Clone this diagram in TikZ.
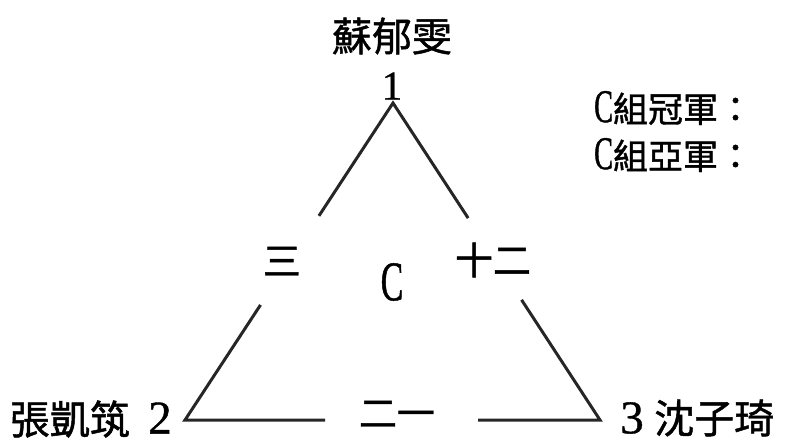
\documentclass[tikz,border=0pt]{standalone}
\usepackage{fontspec}
\newfontfamily\cjk[FakeBold=1.2]{Noto Sans CJK TC}
\newfontfamily\latn[FakeBold=0.8]{Liberation Serif}
\newfontfamily\latnc[FakeStretch=0.6, FakeBold=0.8]{Liberation Serif}
\usetikzlibrary{calc}
\begin{document}
\begin{tikzpicture}[x=1pt, y=-1pt,
    edge/.style={line width=3pt, black!85},
    player/.style={font=\cjk\fontsize{40}{40}\selectfont, inner sep=0pt},
    seat/.style={font=\latn\fontsize{47}{47}\selectfont, inner sep=0pt},
    game/.style={font=\cjk\fontsize{38}{38}\selectfont, inner sep=0pt},
    result/.style={font=\cjk\fontsize{35}{35}\selectfont, inner sep=0pt, anchor=west}
  ]
  \useasboundingbox (0,0) rectangle (787,442);

  % Corners
  \coordinate (v1) at (393,103);
  \coordinate (v2) at (185,420);
  \coordinate (v3) at (600,420);

  % Gap ends
  \coordinate (l1) at ($(v1)!0.356!(v2)$);
  \coordinate (l2) at ($(v1)!0.637!(v2)$);
  \coordinate (r1) at ($(v1)!0.363!(v3)$);
  \coordinate (r2) at ($(v1)!0.621!(v3)$);
  \coordinate (b1) at (325,420);
  \coordinate (b2) at (478,420);

  % Edges
  \draw[edge] (l1) -- (v1) -- (r1);
  \draw[edge] (l2) -- (v2) -- (b1);
  \draw[edge] (b2) -- (v3) -- (r2);

  % Players
  \node[player] (p1) at (392,36) {蘇郁雯};
  \node[seat, font=\latn\fontsize{41}{41}\selectfont] (n1) at (392,86) {1};
  \node[seat] (n2) at (160,418) {2};
  \node[player, anchor=east] (p2) at (130,419) {張凱筑};
  \node[seat] (n3) at (632,418) {3};
  \node[player, anchor=west] (p3) at (654,418) {沈子琦};

  % Games
  \node[game] (g12) at (282,261) {三};
  \node[game] (g13) at (493,260) {十二};
  \node[game] (g23) at (397,414) {二一};
  \node[font=\latnc\fontsize{56}{56}\selectfont, inner sep=0pt] (grp) at (392,282) {C};

  % Results
  \node[result] (champ) at (594,108) {{\latnc\fontsize{47}{47}\selectfont C}組冠軍：};
  \node[result] (runner) at (594,155) {{\latnc\fontsize{47}{47}\selectfont C}組亞軍：};
\end{tikzpicture}
\end{document}
